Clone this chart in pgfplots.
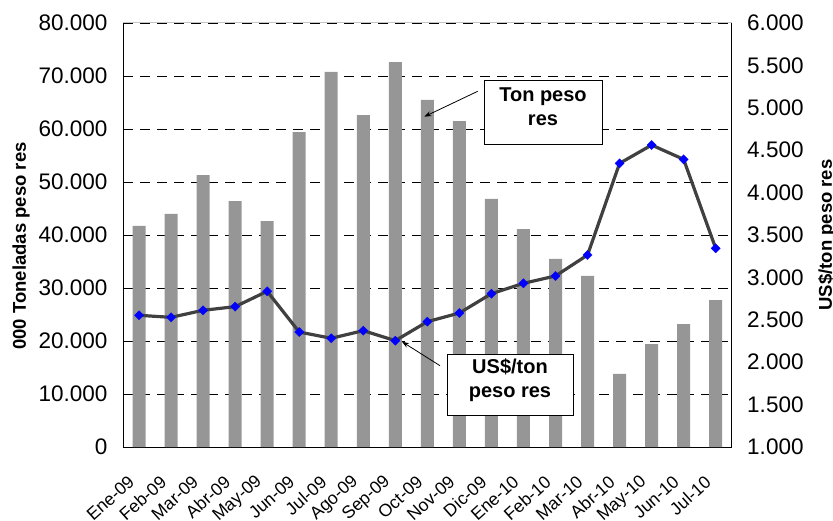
\documentclass[border=0pt]{standalone}
\usepackage{pgfplots}
\pgfplotsset{compat=1.18}
\usepackage{pgfplotstable}
\usepackage{fontspec}
\setmainfont{Liberation Sans}
\usetikzlibrary{arrows.meta}
\definecolor{barC}{RGB}{150,150,150}
\definecolor{lineC}{RGB}{64,64,64}

\pgfplotstableread{
x ton price
0 41700 2553
1 44000 2529
2 51300 2612
3 46400 2655
4 42600 2836
5 59400 2356
6 70800 2282
7 62600 2372
8 72600 2254
9 65500 2478
10 61500 2580
11 46800 2808
12 41100 2930
13 35500 3017
14 32300 3264
15 13800 4345
16 19400 4561
17 23200 4392
18 27700 3343
}\datatable

\begin{document}
\begin{tikzpicture}
\draw[gray!45, line width=1pt] (123pt,-23pt) -- (731.7pt,-23pt);
\begin{axis}[
  at={(123pt,-447pt)}, anchor=south west, scale only axis,
  width=608.7pt, height=424pt,
  xmin=-0.5, xmax=18.5, ymin=0, ymax=80000,
  axis x line*=bottom, axis y line*=left,
  axis line style={black, line width=1pt},
  xtick={0,...,18},
  xticklabels={Ene-09,Feb-09,Mar-09,Abr-09,May-09,Jun-09,Jul-09,Ago-09,Sep-09,Oct-09,Nov-09,Dic-09,Ene-10,Feb-10,Mar-10,Abr-10,May-10,Jun-10,Jul-10},
  ytick={0,10000,...,80000},
  scaled y ticks=false,
  /pgf/number format/1000 sep={.},
  /pgf/number format/assume math mode=true,
  ymajorgrids,
  major grid style={black, line width=0.7pt, dash pattern=on 10pt off 7pt},
  major tick length=0pt,
  tick label style={font=\fontsize{22.5}{27}\selectfont},
  yticklabel style={xshift=-12pt},
  xticklabel style={yshift=-30pt, xshift=-5pt, rotate=42, anchor=east, font=\fontsize{17.6}{20}\selectfont},
  every axis y label/.style={at={(axis description cs:-0.1676,0.474)}, anchor=center, rotate=90},
  ylabel={\fontsize{18.5}{22}\selectfont\bfseries 000 Toneladas peso res},
]
\addplot[ybar, bar width=13pt, fill=barC, draw=none] table[x=x,y=ton]{\datatable};
\end{axis}
\begin{axis}[
  at={(123pt,-447pt)}, anchor=south west, scale only axis,
  width=608.7pt, height=424pt,
  xmin=-0.5, xmax=18.5, ymin=1000, ymax=6000,
  axis x line=none, axis y line*=right,
  axis line style={black, line width=1pt},
  ytick={1000,1500,...,6000},
  scaled y ticks=false,
  /pgf/number format/1000 sep={.},
  /pgf/number format/assume math mode=true,
  major tick length=0pt,
  yticklabel style={font=\fontsize{22.5}{27}\selectfont, xshift=12pt},
  every axis y label/.style={at={(axis description cs:1.1566,0.5)}, anchor=center, rotate=90},
  ylabel={\fontsize{18.5}{22}\selectfont\bfseries US\$/ton peso res},
]
\addplot[lineC, line width=3.2pt, line join=round, mark=square*, mark size=3.3pt,
  mark options={draw=blue, fill=blue, rotate=45, line width=0.2pt, solid}]
  table[x=x,y=price]{\datatable};
\end{axis}
% annotations
\draw[line width=0.8pt, -{Stealth[length=7pt,width=5pt]}] (477.7pt,-91.3pt) -- (424.3pt,-116.7pt);
\draw[fill=white, line width=1pt] (484pt,-81pt) rectangle (602pt,-145pt);
\node[align=center, font=\fontsize{20}{24}\selectfont\bfseries] at (543pt,-107pt) {Ton peso\\res};
\draw[line width=0.8pt, -{Stealth[length=7pt,width=5pt]}] (440pt,-365.7pt) -- (402pt,-341.7pt);
\draw[fill=white, line width=1pt] (447pt,-355pt) rectangle (573pt,-415pt);
\node[align=center, font=\fontsize{20}{24}\selectfont\bfseries] at (510pt,-380pt) {US\$/ton\\peso res};
\pgfresetboundingbox
\path[use as bounding box] (0pt,0pt) rectangle (833pt,-521pt);
\end{tikzpicture}
\end{document}
